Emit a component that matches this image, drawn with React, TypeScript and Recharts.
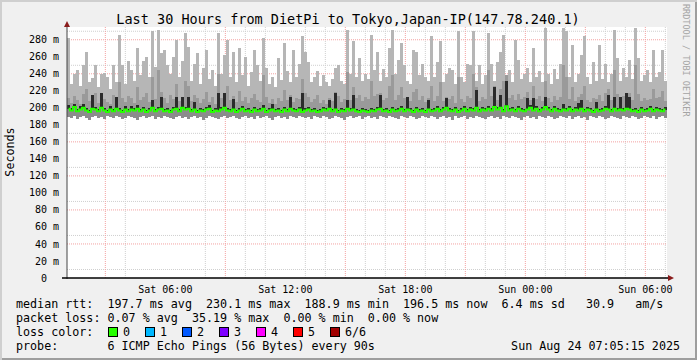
import React from 'react';
import { ComposedChart, Bar, Line, XAxis, YAxis, CartesianGrid } from 'recharts';

const MONO = "'DejaVu Sans Mono', monospace";

// 30 h window ending Sun 07:05; x is hours since Sat 00:00, one bin = 9 min
const T_START = 1 + 5 / 60;
const BIN_H = 0.15;

// smoke: lowest ping, median, top of dark (inner) smoke, top of mid smoke, highest ping (ms)
const lowest = [
  189, 188, 190, 187, 189, 190, 188, 186, 189, 190, 188, 189, 187, 190, 189, 188, 190, 189, 187, 188,
  190, 189, 188, 186, 189, 190, 188, 189, 190, 187, 189, 188, 190, 189, 188, 187, 189, 190, 188, 189,
  187, 189, 190, 188, 189, 186, 188, 190, 189, 188, 187, 189, 190, 188, 189, 190, 188, 187, 189, 190,
  188, 189, 187, 190, 188, 189, 190, 188, 186, 189, 190, 188, 189, 187, 190, 189, 188, 190, 189, 188,
  189, 187, 190, 189, 188, 190, 189, 187, 188, 190, 189, 188, 186, 189, 190, 188, 189, 190, 187, 189,
  190, 188, 189, 187, 190, 189, 188, 190, 189, 188, 187, 190, 189, 188, 190, 189, 187, 188, 190, 189,
  188, 190, 189, 187, 189, 190, 188, 189, 186, 190, 188, 189, 190, 187, 189, 188, 190, 189, 188, 187,
  189, 190, 188, 189, 187, 190, 189, 188, 190, 189, 188, 186, 189, 190, 188, 189, 187, 190, 189, 188,
  190, 189, 187, 188, 190, 189, 188, 190, 187, 189, 190, 188, 189, 186, 190, 189, 188, 190, 189, 187,
  188, 190, 189, 188, 187, 190, 189, 188, 190, 189, 187, 188, 190, 189, 188, 190, 187, 189, 190, 188,
];

const median = [
  199, 197, 201, 196, 198, 200, 197, 195, 199, 198, 196, 200, 197, 195, 198, 196, 199, 197, 195, 198,
  196, 198, 197, 199, 196, 198, 195, 197, 200, 196, 198, 199, 196, 197, 195, 198, 199, 196, 200, 198,
  199, 196, 198, 195, 197, 196, 198, 199, 195, 197, 196, 198, 200, 197, 196, 198, 195, 197, 199, 196,
  197, 195, 198, 196, 197, 199, 195, 197, 198, 196, 197, 195, 198, 196, 199, 197, 196, 198, 195, 197,
  198, 196, 197, 195, 196, 198, 197, 199, 196, 198, 195, 197, 196, 199, 197, 198, 196, 195, 197, 196,
  195, 197, 196, 198, 199, 196, 197, 195, 198, 196, 197, 199, 196, 198, 197, 195, 198, 196, 197, 195,
  198, 196, 197, 199, 196, 198, 200, 197, 196, 198, 195, 197, 199, 196, 198, 197, 200, 196, 198, 197,
  199, 197, 201, 198, 200, 196, 202, 197, 198, 196, 199, 197, 196, 198, 200, 197, 199, 196, 198, 201,
  198, 196, 199, 197, 196, 198, 197, 199, 196, 198, 197, 199, 196, 198, 197, 195, 198, 196, 197, 199,
  198, 196, 199, 197, 198, 197, 199, 198, 196, 197, 195, 198, 196, 197, 199, 196, 198, 197, 196, 198,
];

const darkTop = [
  203, 200, 205, 199, 202, 204, 200, 198, 215, 201, 199, 217, 200, 198, 202, 199, 213, 200, 198, 202,
  199, 202, 200, 203, 199, 201, 198, 200, 209, 199, 201, 213, 199, 200, 198, 201, 213, 199, 213, 201,
  213, 199, 207, 198, 200, 199, 201, 203, 198, 200, 218, 201, 217, 200, 199, 210, 198, 200, 202, 199,
  200, 198, 201, 199, 200, 203, 198, 200, 205, 199, 200, 198, 201, 199, 213, 200, 199, 201, 217, 200,
  201, 199, 200, 198, 199, 201, 200, 209, 199, 217, 198, 200, 199, 209, 200, 215, 199, 198, 200, 199,
  198, 200, 199, 201, 215, 199, 200, 198, 201, 199, 200, 202, 199, 213, 200, 198, 201, 199, 200, 198,
  209, 199, 200, 202, 199, 201, 211, 200, 199, 201, 198, 200, 202, 199, 201, 200, 221, 199, 201, 200,
  202, 200, 225, 201, 215, 199, 231, 200, 201, 199, 202, 200, 199, 211, 203, 211, 202, 199, 201, 213,
  201, 199, 202, 200, 199, 205, 200, 202, 199, 201, 206, 209, 199, 201, 200, 198, 207, 199, 200, 202,
  215, 199, 213, 200, 213, 200, 217, 213, 199, 200, 198, 201, 199, 200, 202, 199, 201, 200, 199, 201,
];

const midTop = [
  212, 206, 214, 209, 205, 216, 222, 208, 211, 218, 206, 213, 210, 207, 204, 215, 209, 230, 212, 207,
  214, 211, 206, 224, 209, 213, 218, 207, 236, 210, 244, 219, 212, 206, 215, 210, 228, 208, 213, 232,
  226, 208, 215, 212, 206, 210, 219, 207, 213, 205, 240, 211, 218, 226, 209, 214, 207, 220, 208, 213,
  206, 211, 216, 209, 207, 238, 213, 206, 210, 204, 212, 208, 221, 209, 215, 207, 212, 210, 234, 218,
  213, 207, 210, 215, 206, 209, 205, 212, 208, 219, 214, 207, 210, 242, 209, 224, 211, 215, 208, 213,
  210, 232, 214, 216, 218, 209, 211, 226, 238, 209, 215, 224, 212, 210, 208, 219, 222, 209, 214, 207,
  212, 226, 208, 214, 230, 208, 213, 210, 214, 206, 236, 210, 207, 214, 211, 240, 224, 208, 213, 210,
  244, 214, 226, 209, 222, 232, 238, 212, 215, 209, 216, 210, 213, 219, 209, 226, 210, 214, 208, 232,
  211, 207, 214, 209, 213, 250, 236, 210, 224, 208, 213, 216, 226, 209, 207, 212, 210, 215, 208, 218,
  222, 209, 244, 216, 210, 214, 212, 218, 209, 250, 216, 208, 212, 209, 210, 222, 211, 213, 220, 208,
];

const highest = [
  282, 228, 240, 245, 226, 250, 266, 230, 235, 250, 224, 240, 241, 236, 222, 250, 230, 286, 250, 228,
  255, 245, 232, 270, 238, 255, 260, 236, 290, 248, 291, 265, 268, 250, 240, 260, 280, 236, 255, 288,
  271, 232, 252, 265, 228, 247, 268, 234, 245, 226, 288, 240, 262, 280, 236, 266, 230, 270, 238, 260,
  226, 242, 268, 250, 232, 282, 247, 228, 236, 224, 258, 233, 276, 243, 230, 268, 236, 252, 284, 266,
  254, 230, 236, 243, 226, 238, 230, 226, 234, 247, 250, 232, 228, 292, 240, 278, 236, 258, 232, 240,
  234, 286, 244, 266, 232, 246, 236, 270, 292, 240, 256, 276, 250, 232, 228, 268, 266, 238, 252, 236,
  232, 284, 236, 254, 278, 230, 240, 247, 244, 228, 290, 236, 230, 252, 250, 290, 232, 250, 228, 238,
  288, 252, 232, 254, 266, 286, 236, 244, 230, 280, 256, 234, 240, 247, 230, 270, 236, 243, 230, 294,
  240, 228, 246, 234, 251, 294, 290, 236, 274, 230, 240, 262, 284, 236, 228, 254, 232, 274, 234, 251,
  230, 240, 292, 258, 232, 247, 236, 256, 234, 294, 258, 232, 238, 244, 230, 268, 236, 242, 268, 232,
];

const timeTicks = [6, 12, 18, 24, 30];
const timeLabels = ['Sat 06:00', 'Sat 12:00', 'Sat 18:00', 'Sun 00:00', 'Sun 06:00'];
const rttTicks = [0, 20, 40, 60, 80, 100, 120, 140, 160, 180, 200, 220, 240, 260, 280];

const lossColors = ['#26ff00', '#00b8ff', '#0059ff', '#7e00ff', '#ff00ff', '#ff0000', '#a10000'];
const lossLabels = ['0', '1', '2', '3', '4', '5', '6/6'];

const statsLines = [
  'median rtt:  197.7 ms avg  230.1 ms max  188.9 ms min  196.5 ms now  6.4 ms sd   30.9   am/s',
  'packet loss: 0.07 % avg  35.19 % max  0.00 % min  0.00 % now',
  'loss color:',
  'probe:       6 ICMP Echo Pings (56 Bytes) every 90s',
];

const rows = median.map((m, i) => {
  const dk = Math.max(darkTop[i], m);
  const md = Math.max(midTop[i], dk);
  return {
    t: T_START + BIN_H * (i + 0.5),
    base: lowest[i],
    under: m - lowest[i],
    dark: dk - m,
    mid: md - dk,
    light: Math.max(highest[i] - md, 0),
    med: m,
  };
});

const minorRtt: number[] = [];
for (let v = 10; v < 295; v += 20) minorRtt.push(v);
const majorRtt = rttTicks.filter((v) => v > 0);
const minorHours: number[] = [];
for (let h = 2; h <= 31; h++) if (h % 3) minorHours.push(h);
const majorHours: number[] = [];
for (let h = 3; h <= 30; h += 3) majorHours.push(h);

const GRID = '#cfcfcf';
const MGRID = '#f3a2a2';
const crisp = { shapeRendering: 'crispEdges' } as any;

export default function App() {
  return (
    <div
      style={{
        position: 'fixed',
        left: 0,
        top: 0,
        width: 697,
        height: 360,
        background: '#f0f0f0',
        boxShadow: 'inset 2px 2px 0 #cfcfcf, inset -2px -2px 0 #9e9e9e',
      }}
    >
      <div style={{ position: 'absolute', left: 0, top: 0 }}>
        <ComposedChart
          width={697}
          height={360}
          data={rows}
          margin={{ top: 27, right: 30, bottom: 52, left: 0 }}
          barCategoryGap={0}
          barGap={0}
        >
          <CartesianGrid
            fill="#ffffff"
            stroke={GRID}
            strokeDasharray="1 1"
            horizontalValues={minorRtt}
            verticalValues={minorHours}
          />
          <CartesianGrid
            stroke={MGRID}
            strokeDasharray="1 1"
            horizontalValues={majorRtt}
            verticalValues={majorHours}
          />
          <XAxis
            dataKey="t"
            type="number"
            domain={[T_START, T_START + 30]}
            allowDataOverflow
            ticks={timeTicks}
            tickFormatter={(_v: number, i: number) => timeLabels[i]}
            tick={{ fontFamily: MONO, fontSize: 10, fill: '#000' }}
            tickLine={false}
            axisLine={false}
            height={30}
          />
          <YAxis
            type="number"
            domain={[0, 295]}
            allowDataOverflow
            ticks={rttTicks}
            tickFormatter={(v: number) => (v === 0 ? '0\u00a0\u00a0' : `${v} m`)}
            tick={{ fontFamily: MONO, fontSize: 10, fill: '#000' }}
            tickLine={false}
            axisLine={false}
            width={67}
          />
          <Bar dataKey="base" stackId="s" fill="#000" fillOpacity={0} barSize={3} isAnimationActive={false} />
          <Bar dataKey="under" stackId="s" fill="#8c8c8c" barSize={3} isAnimationActive={false} {...crisp} />
          <Bar dataKey="dark" stackId="s" fill="#2b2b2b" barSize={3} isAnimationActive={false} {...crisp} />
          <Bar dataKey="mid" stackId="s" fill="#9a9a9a" barSize={3} isAnimationActive={false} {...crisp} />
          <Bar dataKey="light" stackId="s" fill="#b6b6b6" barSize={3} isAnimationActive={false} {...crisp} />
          <Line
            dataKey="med"
            type="step"
            stroke="#26ff00"
            strokeWidth={2}
            dot={false}
            isAnimationActive={false}
          />
        </ComposedChart>
      </div>
      <svg
        width={697}
        height={360}
        style={{ position: 'absolute', left: 0, top: 0, pointerEvents: 'none' }}
        fontFamily={MONO}
      >
        <text x={348} y={24} textAnchor="middle" fontSize={13.5} fill="#000">
          Last 30 Hours from DietPi to Tokyo,Japan-IP(147.78.240.1)
        </text>
        <text transform="translate(14,152) rotate(-90)" textAnchor="middle" fontSize={11.7} fill="#000">
          Seconds
        </text>
        <text transform="translate(683,4) rotate(90)" fontSize={8.5} fill="#a4a4a4">
          RRDTOOL / TOBI OETIKER
        </text>
        <line x1={67} y1={23} x2={67} y2={279} stroke="#444" strokeWidth={1} />
        <line x1={62} y1={278} x2={669} y2={278} stroke="#000" strokeWidth={1.5} />
        <polygon points="64,27 70,27 67,21" fill="#8a1c1c" />
        <polygon points="668,275 668,281 674,278" fill="#8a1c1c" />
        {statsLines.map((s, i) => (
          <text key={i} x={16} y={308 + i * 14} fontSize={11.7} fill="#000" style={{ whiteSpace: 'pre' }}>
            {s}
          </text>
        ))}
        {lossColors.map((c, i) => (
          <g key={c}>
            <rect x={108.5 + i * 37} y={327.5} width={9} height={9} fill={c} stroke="#000" />
            <text x={123 + i * 37} y={336} fontSize={11.7} fill="#000">
              {lossLabels[i]}
            </text>
          </g>
        ))}
        <text x={680} y={350} textAnchor="end" fontSize={11.7} fill="#000">
          Sun Aug 24 07:05:15 2025
        </text>
      </svg>
    </div>
  );
}
